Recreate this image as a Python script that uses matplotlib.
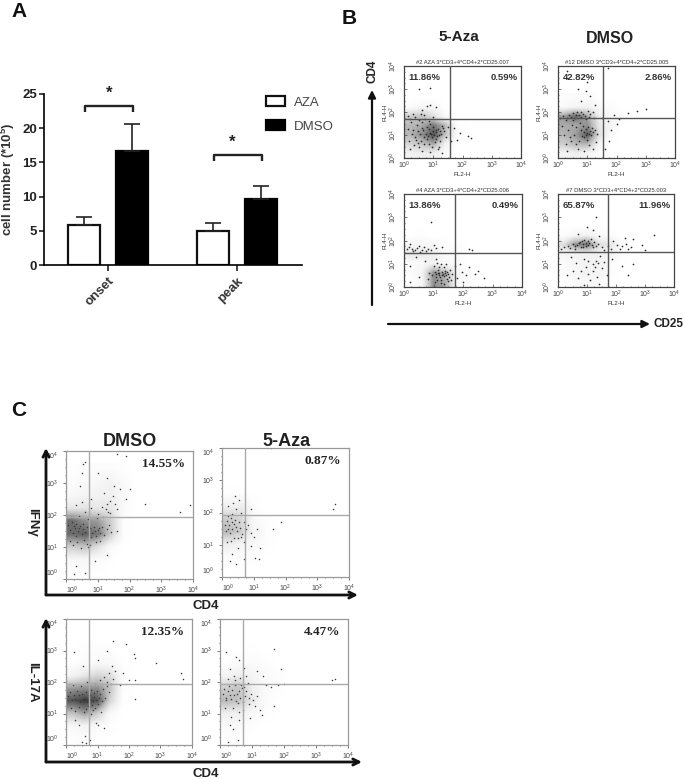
import numpy as np
import matplotlib
matplotlib.use("Agg")
import matplotlib.pyplot as plt

plt.rcParams['font.family'] = ['Liberation Sans', 'DejaVu Sans']
plt.rcParams['mathtext.fontset'] = 'custom'
plt.rcParams['mathtext.rm'] = 'Liberation Sans'
plt.rcParams['mathtext.bf'] = 'Liberation Sans:bold'
plt.rcParams['mathtext.default'] = 'regular'

W, H = 685, 779

# ---- Panel A data
groups = ['onset', 'peak']
aza_mean = [5.9, 4.9]
dmso_mean = [16.6, 9.6]
aza_err = [1.1, 1.2]
dmso_err = [4.0, 2.0]

# ---- Flow panels: percentages and gate labels
b_titles = ['#2 AZA 3*CD3+4*CD4+2*CD25.007', '#12 DMSO 3*CD3+4*CD4+2*CD25.005',
            '#4 AZA 3*CD3+4*CD4+2*CD25.006', '#7 DMSO 3*CD3+4*CD4+2*CD25.003']
b_left = ['11.86%', '42.82%', '13.86%', '65.87%']
b_right = ['0.59%', '2.86%', '0.49%', '11.96%']
c_pct = ['14.55%', '0.87%', '12.35%', '4.47%']

# Visual density: cells of 0.4 decade, top row first,
# columns from 10^0 rightwards.
dens_b1 = [[0, 0, 0, 0, 0, 0], [.03, .08, .08, 0, 0, 0], [.35, .4, .25, .05, 0, 0],
           [.45, .5, .7, .45, .03, 0], [.45, .6, .85, .4, .05, 0],
           [.3, .4, .5, .12, 0, 0], [.12, .15, .15, .05, 0, 0]]
dens_b2 = [[.02, .04, .04, 0, 0, 0], [.05, .1, .12, .05, .03, 0], [.55, .75, .5, .15, .08, .02],
           [.5, .5, .6, .2, .1, 0], [.45, .55, .8, .25, .03, 0],
           [.35, .45, .45, .1, 0, 0], [.1, .15, .1, .02, 0, 0]]
dens_b3 = [[0, 0, 0, 0, 0, 0], [0, .02, 0, 0, 0, 0], [.08, .08, .08, .02, .03, 0],
           [.2, .2, .15, .03, .02, 0], [.03, .05, .12, .06, .02, 0],
           [.03, .08, .6, .45, .08, .04], [.01, .08, .6, .5, .05, .02]]
dens_b4 = [[0, 0, 0, .01, 0, 0], [.02, .08, .12, .05, .03, 0], [.25, .6, .7, .25, .2, .03],
           [.1, .12, .12, .12, .1, .02], [.03, .08, .12, .12, .04, 0],
           [.03, .08, .12, .1, .03, 0], [0, .06, .08, .06, 0, 0]]
dens_c1 = [[.01, .02, .03, .03, .01, 0], [.03, .05, .08, .12, .04, 0], [.06, .1, .12, .15, .06, 0],
           [.2, .22, .2, .2, .05, 0], [.75, .6, .55, .35, .02, 0], [.75, .8, .7, .35, .02, 0],
           [.35, .4, .25, .05, 0, 0], [.07, .08, .05, .01, 0, 0], [.02, .03, .01, 0, 0, 0]]
dens_c2 = [[0, 0, 0, 0, 0, 0], [0, 0, 0, 0, 0, 0], [.01, .01, 0, 0, 0, 0],
           [.12, .15, .02, 0, 0, 0], [.35, .3, .05, .01, 0, 0], [.45, .35, .1, .02, 0, 0],
           [.15, .1, .05, .02, 0, 0], [.03, .03, .02, 0, 0, 0], [0, .01, 0, 0, 0, 0]]
dens_c3 = [[0, 0, 0, 0, 0, 0], [0, .02, .03, .02, 0, 0], [.01, .03, .05, .05, .01, 0],
           [.1, .2, .3, .25, .03, 0], [.55, .6, .6, .4, .02, 0], [.85, .95, .85, .3, .01, 0],
           [.4, .55, .35, .05, 0, 0], [.07, .1, .06, .02, 0, 0], [.02, .03, .01, 0, 0, 0]]
dens_c4 = [[0, 0, 0, 0, 0, 0], [0, 0, .01, 0, 0, 0], [.01, .04, .04, .02, 0, 0],
           [.1, .15, .1, .05, .02, 0], [.35, .4, .15, .05, .02, 0], [.45, .4, .2, .05, 0, 0],
           [.15, .15, .06, .02, 0, 0], [.05, .05, .01, 0, 0, 0], [.01, .01, 0, 0, 0, 0]]

# Individually visible events, (log10 x, log10 y)
dots_b1 = [(.5, 3.0), (.9, 3.05), (.8, 2.25), (.9, 2.3), (.6, 2.1), (1.1, 2.2), (.3, 1.9), (.7, 1.85), (1.0, 1.8),
           (.2, 1.7), (.5, 1.65), (.9, 1.5), (1.3, 1.4), (1.5, 1.35), (1.7, 1.3), (1.9, 1.1), (2.2, .95), (2.3, .85),
           (1.8, .8), (1.6, .75), (.3, 1.2), (.6, 1.3), (.9, 1.1), (1.1, 1.2), (1.2, 1.0), (.95, .9), (1.05, .7),
           (.4, .8), (.7, .6), (.2, .4), (.6, .3), (.9, .25), (1.2, .5), (1.3, .2), (1.0, 1.35), (.75, 1.05),
           (.12, 1.82), (.24, 1.55), (.38, 1.77), (.44, 1.42), (.57, 1.91), (.63, 1.58), (.72, 1.71), (.84, 1.63),
           (.15, 1.28), (.27, 1.04), (.36, .93), (.48, 1.17), (.53, 1.03), (.66, 1.21), (.79, 1.36), (.87, 1.24),
           (1.02, 1.02), (1.09, 1.11), (1.14, .94), (1.17, 1.27), (1.23, 1.16), (1.28, 1.06), (1.33, 1.29), (1.37, 1.18),
           (.98, 1.19), (.93, 1.03), (.83, .97), (.77, .83), (.68, .92), (.58, .74), (.47, .66), (.33, .57),
           (.18, .72), (.51, .49), (.86, .63), (.97, .48), (1.11, .82), (1.22, .72), (1.16, .37), (1.42, .9)]
dots_b2 = [(.3, 3.8), (.9, 3.6), (1.7, 3.9), (1.0, 3.3), (.7, 3.0), (.95, 2.9), (1.1, 2.7), (.8, 2.5), (1.25, 2.3),
           (1.9, 1.85), (2.1, 1.7), (2.4, 1.95), (3.0, 2.15), (2.7, 2.05), (1.7, 1.6), (2.0, 1.5), (1.5, 1.75), (1.8, 1.2),
           (1.75, .75), (1.6, .4), (.3, 1.75), (.6, 1.85), (.8, 1.8), (1.1, 1.9), (.5, 1.65), (.95, 1.7), (.8, 1.2),
           (1.0, 1.1), (1.15, 1.3), (.9, .9), (1.05, 1.05), (.4, .9), (.2, 1.0), (.6, .6), (.9, .3), (.3, .3), (1.3, .7),
           (.08, 1.72), (.17, 1.81), (.26, 1.66), (.37, 1.88), (.44, 1.77), (.52, 1.94), (.58, 1.74), (.66, 1.98),
           (.71, 1.86), (.77, 2.02), (.86, 1.92), (.92, 1.83), (1.02, 2.05), (1.07, 1.79), (1.18, 1.98), (1.24, 1.72),
           (.13, 1.38), (.33, 1.21), (.47, 1.44), (.63, 1.33), (.74, 1.52), (.84, 1.41), (.97, 1.27), (1.03, 1.36),
           (1.09, 1.18), (1.12, .98), (.96, 1.01), (.88, 1.13), (.82, .94), (1.21, 1.12), (1.27, 1.22), (1.33, 1.03),
           (.54, .98), (.43, .72), (.28, .62), (.73, .73), (.99, .78), (1.07, .58), (1.19, .41), (.67, .37)]
dots_b3 = [(.9, 2.8), (.2, 1.85), (.5, 1.75), (.8, 1.65), (1.0, 1.8), (.3, 1.55), (.6, 1.6), (1.3, 1.7), (2.2, 1.65),
           (2.3, 1.6), (.4, 1.3), (.7, 1.1), (.2, .9), (1.1, 1.2), (1.9, 1.0), (2.2, .85), (2.5, .7), (2.7, .4),
           (1.8, .4), (2.0, .2), (2.4, .55), (1.2, .6), (1.3, .5), (1.4, .7), (1.25, .3), (1.1, .45), (1.5, .55),
           (.2, .2), (.5, .45), (.8, .35), (1.35, .15), (1.15, .75), (1.45, .35),
           (.1, 1.62), (.16, 1.71), (.28, 1.63), (.37, 1.58), (.44, 1.69), (.55, 1.52), (.68, 1.7), (.74, 1.55),
           (.92, 1.6), (1.08, 1.66), (1.02, .92), (1.13, 1.02), (1.27, .97), (1.34, .88), (1.41, .98), (1.18, .88),
           (1.06, .66), (1.09, .55), (1.16, .62), (1.19, .5), (1.22, .41), (1.28, .66), (1.31, .58), (1.36, .46),
           (1.39, .61), (1.43, .52), (1.47, .66), (1.52, .42), (1.57, .74), (1.24, .19), (1.11, .28), (1.04, .22),
           (1.49, .24), (1.58, .3), (.95, .52), (.86, .6), (1.64, .58), (1.72, .9), (1.95, .65), (2.1, .5)]
dots_b4 = [(1.3, 3.0), (1.0, 2.6), (1.2, 2.45), (.7, 2.3), (1.4, 2.2), (3.3, 2.25), (2.3, 2.1), (2.6, 2.05), (2.9, 1.8),
           (3.0, 1.6), (1.9, 2.0), (2.2, 1.75), (2.5, 1.7), (.2, 1.7), (.6, 1.75), (.85, 1.85), (.95, 1.9), (1.05, 1.8),
           (.75, 1.95), (1.2, 1.7), (1.6, 1.6), (.9, 1.2), (1.3, 1.1), (1.5, .8), (1.7, .5), (2.4, .5), (2.2, .9),
           (.5, .7), (.7, .4), (1.1, .3), (1.4, .15), (.3, .5), (2.6, 1.0), (1.2, .7), (1.45, 1.35), (.9, .1),
           (.11, 1.63), (.34, 1.78), (.43, 1.67), (.52, 1.86), (.58, 1.65), (.66, 1.8), (.71, 1.88), (.78, 1.74),
           (.82, 1.96), (.87, 1.72), (.91, 2.01), (.98, 1.77), (1.02, 1.98), (1.08, 1.9), (1.13, 2.08), (1.16, 1.82),
           (1.24, 1.93), (1.31, 1.78), (1.38, 1.86), (1.52, 1.74), (1.74, 1.78), (1.83, 1.65), (2.02, 1.8), (2.13, 1.62),
           (2.34, 1.84), (2.41, 1.63), (1.04, 1.1), (1.19, .98), (1.27, .84), (1.38, 1.02), (.63, 1.04), (.81, .68),
           (1.02, .55), (1.33, .42), (1.58, 1.08), (1.85, 1.2), (.44, 1.3), (.98, .88)]
dots_c1 = [(.55, 3.6), (.6, 3.65), (1.9, 3.85), (1.6, 3.9), (.5, 3.3), (.45, 2.9), (1.0, 3.3), (1.3, 3.15), (1.5, 2.9),
           (1.7, 2.8), (2.0, 2.8), (1.9, 2.5), (1.3, 2.35), (1.4, 2.45), (1.6, 2.2), (2.5, 2.35), (3.6, 2.1), (3.9, 2.3),
           (1.2, 2.7), (.8, 2.5), (.3, 2.3), (.6, 2.1), (.4, 1.6), (.25, 1.65), (.55, 1.55), (.9, 1.5), (1.05, 1.6),
           (.3, 1.35), (.8, 1.3), (.75, 1.05), (.7, 1.0), (1.3, .75), (.9, .55), (.3, .4), (.25, .15), (.6, .2), (1.6, 1.5),
           (.06, 1.7), (.13, 1.52), (.18, 1.78), (.22, 1.45), (.29, 1.58), (.33, 1.72), (.37, 1.5), (.44, 1.66),
           (.49, 1.42), (.53, 1.71), (.61, 1.47), (.66, 1.62), (.71, 1.38), (.76, 1.58), (.83, 1.44), (.88, 1.63),
           (.95, 1.35), (1.0, 1.52), (1.08, 1.43), (1.14, 1.61), (1.2, 1.39), (1.28, 1.56), (1.36, 1.7), (1.42, 1.48),
           (.12, 1.2), (.21, 1.05), (.35, 1.16), (.46, .98), (.58, 1.23), (.65, 1.1), (.93, 1.15), (1.06, 1.2),
           (.15, 1.94), (.42, 1.98), (.68, 1.88), (.98, 1.9), (1.18, 1.95), (1.31, 2.1), (1.12, 2.25), (1.48, 2.6),
           (1.25, 2.2), (1.55, 2.35), (1.38, 2.05), (.78, 2.22), (.5, 2.42), (1.02, 2.02)]
dots_c2 = [(1.55, 4.0), (.4, 2.5), (.55, 2.4), (.2, 2.2), (.3, 1.95), (.6, 2.0), (.3, 1.7), (.2, 1.5), (.45, 1.55),
           (.25, 1.35), (.5, 1.2), (.7, 1.1), (.9, 1.35), (1.1, 1.5), (1.0, 1.25), (.9, .95), (1.2, .9), (.5, .9),
           (.3, .7), (.25, .5), (.45, .4), (.7, .55), (1.05, .6), (1.15, .55), (1.6, 1.5), (1.85, 1.7), (3.5, 2.1), (3.55, 2.25),
           (.9, 2.1), (.15, 1.1), (.08, 1.62), (.12, 1.44), (.16, 1.75), (.22, 1.6), (.27, 1.82), (.33, 1.48), (.37, 1.64),
           (.42, 1.78), (.48, 1.42), (.53, 1.69), (.58, 1.52), (.64, 1.34), (.69, 1.72), (.75, 1.48), (.81, 1.6),
           (.38, 1.22), (.28, 1.12), (.6, 1.25), (.18, 1.9), (.45, 2.1), (.34, 2.28)]
dots_c3 = [(.25, 2.95), (.55, 2.5), (1.5, 3.3), (1.9, 3.2), (2.15, 2.9), (2.2, 2.75), (2.85, 2.6), (1.3, 3.0), (1.0, 2.7),
           (1.45, 2.5), (1.8, 2.3), (2.0, 2.05), (2.2, 2.05), (3.65, 2.3), (3.7, 2.1), (2.2, 1.45), (1.7, 1.9), (1.5, 2.1),
           (1.3, 2.0), (.4, 1.6), (.6, 1.5), (.75, 1.6), (.85, 1.4), (.9, 1.65), (1.05, 1.5), (.3, 1.45), (.7, 1.25),
           (.85, 1.1), (.3, .8), (.4, .65), (.95, .7), (1.0, .65), (1.2, .55), (.5, .1), (.6, .3), (.75, .15), (.65, .05),
           (.07, 1.55), (.13, 1.68), (.19, 1.42), (.24, 1.58), (.35, 1.72), (.45, 1.38), (.5, 1.62), (.55, 1.46),
           (.63, 1.67), (.68, 1.36), (.72, 1.52), (.79, 1.74), (.82, 1.28), (.88, 1.53), (.94, 1.42), (.99, 1.72),
           (1.03, 1.31), (1.09, 1.62), (1.14, 1.4), (1.19, 1.78), (1.24, 1.5), (1.3, 1.86), (1.37, 1.68), (1.43, 1.93),
           (.16, 1.17), (.28, 1.08), (.42, 1.2), (.56, 1.04), (.64, 1.14), (.78, 1.0), (.92, 1.18), (1.1, 1.05),
           (.22, 1.9), (.48, 1.88), (.66, 2.0), (.93, 1.95), (1.08, 2.05), (1.22, 2.15), (1.38, 2.28), (1.57, 2.34)]
dots_c4 = [(1.7, 3.05), (.2, 2.95), (.5, 2.8), (.6, 2.7), (.3, 2.4), (.45, 2.2), (.75, 2.45), (.8, 2.2), (1.15, 2.35),
           (1.35, 2.2), (1.9, 2.4), (3.5, 2.05), (3.6, 2.1), (1.6, 1.85), (1.8, 1.9), (2.0, 1.95), (1.45, 1.9), (.7, 1.8),
           (.75, 1.85), (.6, 1.7), (.3, 1.6), (.2, 1.5), (.5, 1.4), (.9, 1.3), (1.1, 1.25), (1.25, 1.1), (1.7, 1.25),
           (1.3, .95), (.35, .9), (.6, .8), (.3, .65), (.4, .5), (.25, .1), (.55, .15), (.95, .85),
           (.08, 1.62), (.13, 1.78), (.18, 1.42), (.24, 1.7), (.28, 1.88), (.34, 1.46), (.38, 1.75), (.43, 1.58),
           (.47, 1.92), (.53, 1.62), (.57, 1.34), (.63, 1.5), (.67, 1.9), (.72, 1.38), (.78, 1.55), (.82, 1.72),
           (.86, 1.98), (.92, 1.48), (.98, 1.62), (1.04, 1.42), (1.16, 1.55), (.15, 1.18), (.42, 1.16), (.58, 1.04),
           (.72, 1.12), (.48, 2.05), (.64, 2.12), (.26, 2.08)]

b_grids = [dens_b1, dens_b2, dens_b3, dens_b4]
b_dots = [dots_b1, dots_b2, dots_b3, dots_b4]
c_grids = [dens_c1, dens_c2, dens_c3, dens_c4]
c_dots = [dots_c1, dots_c2, dots_c3, dots_c4]

# ---- Layout (reference pixels: left, top, right, bottom)
box_a = (44, 94, 302, 265)
boxes_b = [(404, 66, 521, 158), (558, 66, 675, 158), (404, 194, 522, 287), (558, 194, 674, 287)]
gates_b = [(450, 119), (603, 118), (455, 253), (608, 252)]
boxes_c = [(66, 451, 193, 579), (222, 448, 349, 577), (66, 619, 192, 745), (220, 619, 348, 745)]
gates_c = [(89, 517), (245, 515), (89, 684), (243, 684)]


def axes_px(fig, box):
    l, t, r, b = box
    return fig.add_axes([l / W, 1 - b / H, (r - l) / W, (b - t) / H])


fig = plt.figure(figsize=(W / 100, H / 100), dpi=100, facecolor='white')

# ---- Panel A
ax = axes_px(fig, box_a)
x = np.arange(len(groups))
bw, off = .248, .186
ax.bar(x - off, aza_mean, bw, facecolor='white', edgecolor='#111111', lw=1.6, label='AZA',
       yerr=[[0, 0], aza_err], error_kw=dict(ecolor='#222222', elinewidth=1.2, capsize=5.5, capthick=1.2))
ax.bar(x + off, dmso_mean, bw, facecolor='black', edgecolor='black', lw=1.6, label='DMSO',
       yerr=[[0, 0], dmso_err], error_kw=dict(ecolor='#222222', elinewidth=1.2, capsize=5.5, capthick=1.2))
ax.set_xlim(-.496, 1.504)
ax.set_ylim(0, 25)
ax.set_yticks([0, 5, 10, 15, 20, 25])
ax.set_xticks(x)
ax.set_xticklabels(groups, rotation=45, ha='right', rotation_mode='anchor', fontsize=9.5,
                   fontweight='bold', color='#333333')
ax.tick_params(axis='y', labelsize=9.5, width=1.2, length=3.5, colors='#222222', pad=1.5)
ax.tick_params(axis='x', width=1.2, length=4, color='#222222', pad=3)
for lab in ax.get_yticklabels():
    lab.set_fontweight('bold')
for s in ('top', 'right'):
    ax.spines[s].set_visible(False)
for s in ('left', 'bottom'):
    ax.spines[s].set_linewidth(1.2)
ax.set_ylabel('cell number (*10$^{5}$)', fontsize=9.5, fontweight='bold', color='#333333')
ax.yaxis.set_label_coords((17 - 44) / 258, .5)
for gx, top, star in [(0, 23.3, 25.1), (1, 16.1, 18.0)]:
    ax.plot([gx - .175, gx - .175, gx + .195, gx + .195], [top - .9, top, top, top - .9],
            color='#222222', lw=1.7, clip_on=False, solid_capstyle='butt')
    ax.text(gx + .01 if gx == 0 else gx - .04, star, '*', ha='center', va='center', fontsize=12,
            fontweight='bold', color='#222222', clip_on=False)
leg = ax.legend(loc='upper left', bbox_to_anchor=(.84, 1.02), frameon=False, fontsize=9.5,
                handlelength=1.45, handleheight=.85, labelspacing=.85, handletextpad=.7, borderaxespad=0,
                labelcolor='#444444')


def flow(box, gate, grid, dots, small):
    a = axes_px(fig, box)
    g = np.array(grid, dtype=float)
    n, m = g.shape
    a.imshow(g, extent=(0, m * .4, 0, n * .4), origin='upper', aspect='auto', cmap='Greys',
             vmin=0, vmax=1.15, interpolation='bilinear', zorder=1)
    xs, ys = zip(*dots)
    a.scatter(xs, ys, s=1.5 if small else 1.2, c='#2a2a2a' if small else '#3a3a3a', linewidths=0, zorder=2)
    a.set_xlim(0, 4)
    a.set_ylim(0, 4)
    l, t, r, b = box
    gx = (gate[0] - l) / (r - l) * 4
    gy = (b - gate[1]) / (b - t) * 4
    col = '#555555' if small else '#aaaaaa'
    a.axvline(gx, color=col, lw=1.0, zorder=3)
    a.axhline(gy, color=col, lw=1.0, zorder=3)
    a.set_xticks(range(5))
    a.set_yticks(range(5))
    a.set_xticklabels([f'10$^{{{k}}}$' for k in range(5)])
    a.set_yticklabels([f'10$^{{{k}}}$' for k in range(5)])
    a.set_xticks(np.arange(0, 4.01, .25), minor=True)
    a.set_yticks(np.arange(0, 4.01, .25), minor=True)
    ecol = '#444444' if small else '#999999'
    for s in a.spines.values():
        s.set_color(ecol)
        s.set_linewidth(.9)
    a.tick_params(which='both', direction='in' if small else 'out', color='#444444', width=.5,
                  labelcolor='#444444')
    a.tick_params(which='major', length=2.5, labelsize=5, pad=1.5)
    a.tick_params(which='minor', length=1)
    if small:
        a.tick_params(axis='y', which='major', pad=3.5)
        for lab in a.get_yticklabels():
            lab.set_rotation(90)
            lab.set_va('center')
    else:
        a.tick_params(axis='y', which='major', pad=3)
        ylabs = a.get_yticklabels()
        ylabs[0].set_va('bottom')
        ylabs[-1].set_va('top')
        a.get_xticklabels()[0].set_ha('left')
    return a


for i in range(4):
    a = flow(boxes_b[i], gates_b[i], b_grids[i], b_dots[i], True)
    a.set_xlabel('FL2-H', fontsize=4.5, labelpad=0.5, color='#333333')
    a.set_ylabel('FL4-H', fontsize=4.5, labelpad=0.5, color='#333333')
    a.set_title(b_titles[i], fontsize=4.2, pad=1.5, color='#333333')
    a.text(.04, .88, b_left[i], transform=a.transAxes, fontsize=6.8, fontweight='bold', color='#333333', va='center')
    a.text(.97, .88, b_right[i], transform=a.transAxes, fontsize=6.8, fontweight='bold', color='#333333',
           ha='right', va='center')

for i in range(4):
    a = flow(boxes_c[i], gates_c[i], c_grids[i], c_dots[i], False)
    a.text(.94, .90, c_pct[i], transform=a.transAxes, fontsize=9.5, fontweight='bold', family='Liberation Serif',
           color='#222222', ha='right', va='center')

# ---- Overlay in reference pixels for labels and arrows
ov = fig.add_axes([0, 0, 1, 1], zorder=10)
ov.set_xlim(0, W)
ov.set_ylim(H, 0)
ov.axis('off')
ov.patch.set_alpha(0)


def arrow(x0, y0, x1, y1, lw=1.6):
    ov.annotate('', xy=(x1, y1), xytext=(x0, y0),
                arrowprops=dict(arrowstyle='-|>', color='#111111', lw=lw, mutation_scale=11, shrinkA=0, shrinkB=0))


def harrow(x0, y0, x1, y1, lw=1.6):
    ov.annotate('', xy=(x1, y1), xytext=(x0, y0),
                arrowprops=dict(arrowstyle='->', color='#111111', lw=lw, mutation_scale=11, shrinkA=0, shrinkB=0))


for txt, px, py in [('A', 19, 11), ('B', 349, 18), ('C', 19, 410)]:
    ov.text(px, py, txt, fontsize=15, fontweight='bold', ha='center', va='center', color='#111111')

ov.text(459, 37, '5-Aza', fontsize=11, fontweight='bold', ha='center', va='center', color='#222222')
ov.text(610, 38, 'DMSO', fontsize=11.5, fontweight='bold', ha='center', va='center', color='#222222')
ov.text(373, 71, 'CD4', fontsize=8.5, fontweight='bold', rotation=90, ha='center', va='center', color='#222222')
ov.text(669, 324, 'CD25', fontsize=8.5, fontweight='bold', ha='center', va='center', color='#222222')
arrow(372, 305, 372, 90)
arrow(388, 324, 650, 324)

ov.text(130, 441, 'DMSO', fontsize=13, fontweight='bold', ha='center', va='center', color='#222222')
ov.text(287, 441, '5-Aza', fontsize=13, fontweight='bold', ha='center', va='center', color='#222222')
harrow(46, 595, 46, 448, 2)
harrow(46, 595, 358, 595, 2)
harrow(46, 762, 46, 618, 2)
harrow(46, 762, 362, 762, 2)
ov.text(206, 606, 'CD4', fontsize=9.5, fontweight='bold', ha='center', va='center', color='#222222')
ov.text(206, 774, 'CD4', fontsize=9.5, fontweight='bold', ha='center', va='center', color='#222222')
ov.text(32, 522, 'IFNγ', fontsize=9.5, fontweight='bold', rotation=270, ha='center', va='center', color='#222222')
ov.text(32, 682, 'IL-17A', fontsize=9.5, fontweight='bold', rotation=270, ha='center', va='center', color='#222222')

fig.savefig('out.png', dpi=100, facecolor='white')
